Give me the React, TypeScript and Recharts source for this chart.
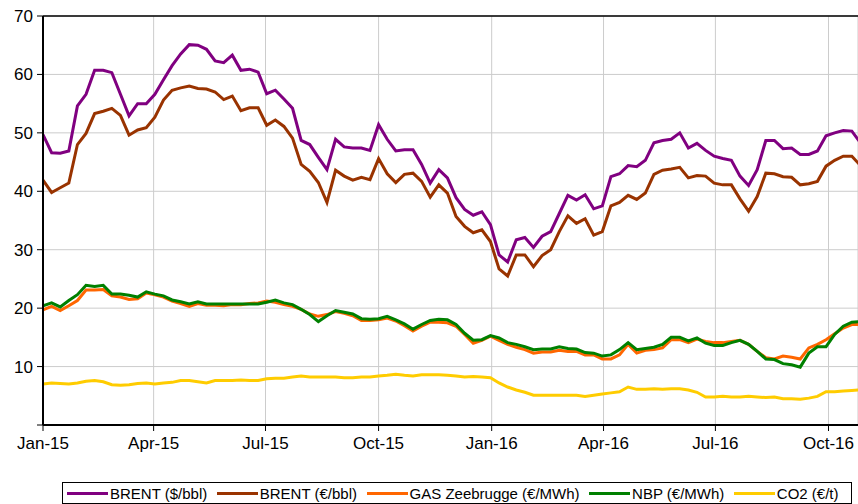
import { CartesianGrid, Legend, Line, LineChart, ReferenceLine, XAxis, YAxis } from 'recharts';

const DAY = 86400000;
const firstWeek = Date.UTC(2015, 0, 1);
const lastDay = Date.UTC(2016, 9, 25);

const tickDates = ['2015-01-01', '2015-04-01', '2015-07-01', '2015-10-01', '2016-01-01', '2016-04-01', '2016-07-01', '2016-10-01'];
const tickLabels = ['Jan-15', 'Apr-15', 'Jul-15', 'Oct-15', 'Jan-16', 'Apr-16', 'Jul-16', 'Oct-16'];
const yTicks = [0, 10, 20, 30, 40, 50, 60, 70];

// weekly values
const brentUsd = [
  49.7, 46.6, 46.5, 46.9, 54.6, 56.6, 60.7, 60.7, 60.3, 56.6, 52.9, 55.0, 55.0, 56.6, 59.1, 61.5,
  63.5, 65.1, 65.0, 64.3, 62.3, 62.0, 63.3, 60.7, 60.9, 60.4, 56.7, 57.3, 55.8, 54.2, 48.7, 48.0,
  45.8, 43.7, 48.9, 47.6, 47.4, 47.4, 47.0, 51.4, 48.9, 46.9, 47.1, 47.1, 44.6, 41.4, 43.7, 42.3,
  38.9, 36.9, 35.9, 36.5, 34.3, 29.1, 27.9, 31.7, 32.1, 30.4, 32.3, 33.1, 36.2, 39.3, 38.5, 39.4,
  37.0, 37.5, 42.5, 43.0, 44.4, 44.2, 45.3, 48.3, 48.7, 48.9, 50.0, 47.4, 48.2, 47.0, 46.0, 45.6,
  45.3, 42.6, 41.0, 43.7, 48.7, 48.7, 47.3, 47.4, 46.3, 46.3, 46.9, 49.5, 50.0, 50.4, 50.3, 48.3,
];
const brentEur = [
  41.9, 39.8, 40.6, 41.4, 48.0, 49.9, 53.3, 53.7, 54.2, 53.0, 49.6, 50.5, 50.9, 52.7, 55.6, 57.3,
  57.7, 58.0, 57.6, 57.5, 57.0, 55.7, 56.3, 53.8, 54.3, 54.3, 51.3, 52.2, 51.1, 49.1, 44.6, 43.4,
  41.5, 38.1, 43.6, 42.6, 41.9, 42.4, 42.0, 45.6, 43.0, 41.5, 42.9, 43.1, 41.7, 39.0, 41.1, 39.7,
  35.7, 34.0, 32.9, 33.4, 31.4, 26.7, 25.5, 29.1, 29.1, 27.1, 29.0, 30.0, 33.1, 35.8, 34.5, 35.3,
  32.5, 33.1, 37.5, 38.1, 39.3, 38.6, 39.7, 42.9, 43.6, 43.8, 44.1, 42.3, 42.7, 42.6, 41.4, 41.1,
  41.1, 38.7, 36.6, 39.1, 43.1, 43.0, 42.5, 42.4, 41.1, 41.3, 41.7, 44.3, 45.3, 46.0, 46.0, 44.4,
];
const gasZeebrugge = [
  19.7, 20.3, 19.6, 20.4, 21.3, 23.1, 23.1, 23.2, 22.1, 21.9, 21.5, 21.6, 22.6, 22.3, 21.9, 21.2,
  20.8, 20.3, 20.8, 20.5, 20.5, 20.4, 20.6, 20.6, 20.8, 20.9, 21.2, 21.0, 20.6, 20.3, 19.8, 19.0,
  18.6, 18.9, 19.4, 19.1, 18.7, 17.9, 17.9, 18.0, 18.3, 17.8, 17.0, 16.1, 16.9, 17.6, 17.6, 17.5,
  16.9, 15.5, 14.0, 14.5, 15.2, 14.5, 13.8, 13.3, 12.9, 12.3, 12.5, 12.5, 12.8, 12.6, 12.6, 12.0,
  12.0, 11.3, 11.3, 12.0, 13.8, 12.3, 12.8, 12.9, 13.2, 14.6, 14.6, 14.1, 14.7, 14.3, 14.1, 14.1,
  14.3, 14.5, 13.8, 12.6, 11.5, 11.3, 11.8, 11.6, 11.3, 13.2, 13.8, 14.6, 15.6, 16.6, 17.2, 17.2,
];
const nbp = [
  20.4, 20.9, 20.2, 21.3, 22.3, 23.9, 23.7, 23.9, 22.4, 22.4, 22.2, 21.9, 22.8, 22.4, 22.1, 21.4,
  21.1, 20.7, 21.1, 20.7, 20.7, 20.7, 20.7, 20.7, 20.7, 20.7, 21.0, 21.4, 20.9, 20.6, 19.8, 18.9,
  17.7, 18.7, 19.6, 19.3, 19.0, 18.2, 18.1, 18.2, 18.6, 18.0, 17.3, 16.4, 17.2, 17.9, 18.1, 18.0,
  17.2, 15.7, 14.5, 14.6, 15.3, 14.9, 14.1, 13.8, 13.4, 12.9, 13.0, 13.0, 13.4, 13.1, 13.0, 12.4,
  12.3, 11.8, 12.0, 12.9, 14.1, 12.9, 13.1, 13.3, 13.8, 15.0, 15.0, 14.4, 14.9, 14.0, 13.6, 13.6,
  14.1, 14.5, 13.8, 12.6, 11.3, 11.2, 10.5, 10.3, 9.9, 12.3, 13.4, 13.4, 15.5, 16.9, 17.6, 17.7,
];
const co2 = [
  7.0, 7.2, 7.1, 7.0, 7.2, 7.5, 7.6, 7.4, 6.9, 6.8, 6.9, 7.1, 7.2, 7.0, 7.2, 7.3,
  7.6, 7.6, 7.4, 7.2, 7.6, 7.6, 7.6, 7.7, 7.6, 7.6, 7.9, 8.0, 8.0, 8.2, 8.4, 8.2,
  8.2, 8.2, 8.2, 8.1, 8.1, 8.2, 8.2, 8.4, 8.5, 8.7, 8.5, 8.4, 8.6, 8.6, 8.6, 8.5,
  8.4, 8.2, 8.3, 8.2, 8.1, 7.2, 6.5, 6.0, 5.6, 5.1, 5.1, 5.1, 5.1, 5.1, 5.1, 4.9,
  5.1, 5.3, 5.5, 5.7, 6.5, 6.1, 6.1, 6.2, 6.1, 6.2, 6.2, 6.0, 5.6, 4.8, 4.8, 4.9,
  4.8, 4.8, 4.9, 4.8, 4.7, 4.8, 4.5, 4.5, 4.4, 4.6, 4.9, 5.7, 5.7, 5.8, 5.9, 6.0,
];

const series = [
  { key: 'brentUsd', label: 'BRENT ($/bbl)', color: '#800080' },
  { key: 'brentEur', label: 'BRENT (€/bbl)', color: '#993300' },
  { key: 'gas', label: 'GAS Zeebrugge (€/MWh)', color: '#FF6600' },
  { key: 'nbp', label: 'NBP (€/MWh)', color: '#008000' },
  { key: 'co2', label: 'CO2 (€/t)', color: '#FFCC00' },
];

const data = brentUsd.map((v, i) => ({
  t: firstWeek + i * 7 * DAY,
  brentUsd: v,
  brentEur: brentEur[i],
  gas: gasZeebrugge[i],
  nbp: nbp[i],
  co2: co2[i],
}));

const xTicks = tickDates.map((d) => Date.parse(d));
const FONT = '"Liberation Sans", Arial, sans-serif';

function LegendBox() {
  return (
    <div
      style={{
        display: 'flex',
        alignItems: 'center',
        height: 22,
        boxSizing: 'border-box',
        border: '1px solid #000',
        padding: '0 0 0 4px',
        fontFamily: FONT,
        fontSize: 15,
        color: '#000',
        whiteSpace: 'nowrap',
      }}
    >
      {series.map((s) => (
        <span key={s.key} style={{ display: 'inline-flex', alignItems: 'center', marginRight: 9.5 }}>
          <span style={{ display: 'inline-block', width: 41, height: 3, background: s.color, marginRight: 2 }} />
          {s.label}
        </span>
      ))}
    </div>
  );
}

export default function App() {
  return (
    <div style={{ position: 'absolute', left: 0, top: 0, width: 858, height: 504, overflow: 'hidden', background: '#fff' }}>
      <LineChart width={858} height={504} data={data} margin={{ top: 16, right: 0, left: 0, bottom: 0 }}>
        <CartesianGrid stroke="#cccccc" strokeWidth={1} />
        <XAxis
          dataKey="t"
          type="number"
          scale="time"
          domain={[firstWeek, lastDay]}
          allowDataOverflow
          ticks={xTicks}
          tickFormatter={(v) => tickLabels[xTicks.indexOf(v)] ?? ''}
          height={57}
          tick={{ fontSize: 17, fill: '#000', fontFamily: FONT }}
          tickLine={{ stroke: '#000' }}
          tickSize={6}
          tickMargin={6}
          axisLine={{ stroke: '#000', strokeWidth: 2 }}
        />
        <YAxis
          domain={[0, 70]}
          ticks={yTicks}
          width={43}
          tickFormatter={(v) => (v === 0 ? '' : String(v))}
          tick={{ fontSize: 17, fill: '#000', fontFamily: FONT }}
          tickLine={{ stroke: '#000' }}
          tickSize={6}
          tickMargin={4}
          axisLine={{ stroke: '#000', strokeWidth: 2 }}
        />
        <ReferenceLine y={70} stroke="#000" strokeWidth={1.5} />
        <Legend verticalAlign="bottom" content={<LegendBox />} wrapperStyle={{ left: 62, width: 790 }} />
        {series.map((s) => (
          <Line
            key={s.key}
            dataKey={s.key}
            name={s.label}
            stroke={s.color}
            strokeWidth={3}
            dot={false}
            type="linear"
            isAnimationActive={false}
          />
        ))}
      </LineChart>
    </div>
  );
}
